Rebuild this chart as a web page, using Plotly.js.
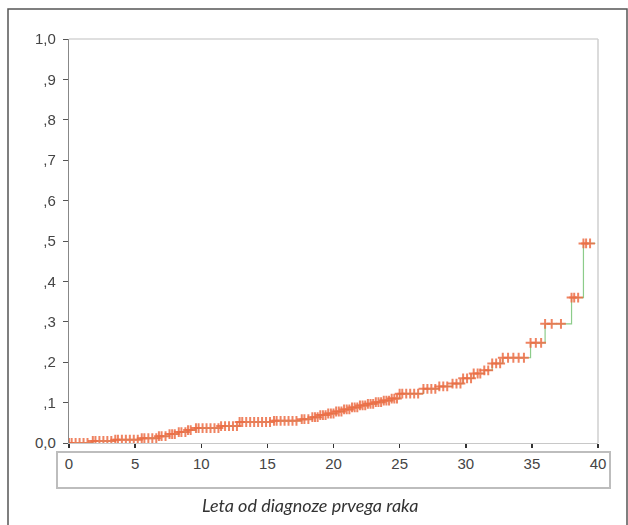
<!DOCTYPE html>
<html>
<head>
<meta charset="utf-8">
<script src="https://cdn.plot.ly/plotly-3.0.1.min.js"></script>
<style>html,body{margin:0;padding:0;background:#fff;}#chart{width:628px;height:525px;}</style>
</head>
<body>
<div id="chart"></div>
<script>
// Step function (cumulative incidence) – event times and values
const stepTimes = [0, 1.8, 3.5, 5.5, 6.8, 7.6, 8.3, 9.0, 9.6, 11.5, 12.9, 15.5, 17.6, 18.4, 19.0, 19.6, 20.2, 20.8, 21.4, 22.0, 22.6, 23.2, 23.8, 24.4, 25.0, 26.8, 28.0, 29.0, 29.8, 30.6, 31.4, 32.0, 32.8, 34.9, 36.0, 38.0, 38.9, 39.8];
const stepValues = [0, 0.005, 0.008, 0.012, 0.017, 0.022, 0.027, 0.032, 0.037, 0.042, 0.052, 0.055, 0.059, 0.064, 0.069, 0.073, 0.078, 0.083, 0.088, 0.093, 0.097, 0.101, 0.105, 0.110, 0.122, 0.134, 0.140, 0.147, 0.160, 0.172, 0.180, 0.197, 0.211, 0.248, 0.295, 0.360, 0.494, 0.494];
// Censored observations (times)
const censorTimes = [0.2, 0.5, 0.8, 1.1, 1.4, 2.0, 2.3, 2.6, 2.9, 3.2, 3.7, 4.0, 4.3, 4.6, 4.9, 5.2, 5.7, 6.0, 6.3, 6.6, 7.0, 7.3, 7.8, 8.0, 8.5, 8.8, 9.2, 9.8, 10.1, 10.4, 10.7, 11.0, 11.3, 11.8, 12.1, 12.4, 12.7, 13.1, 13.4, 13.7, 14.0, 14.3, 14.6, 14.9, 15.2, 15.7, 16.0, 16.3, 16.6, 16.9, 17.2, 17.8, 18.1, 18.6, 18.8, 19.2, 19.4, 19.8, 20.0, 20.4, 20.6, 21.0, 21.2, 21.6, 21.8, 22.2, 22.4, 22.8, 23.0, 23.4, 23.6, 24.0, 24.2, 24.6, 24.8, 25.2, 25.5, 25.8, 26.1, 26.4, 27.1, 27.4, 27.7, 28.3, 28.6, 29.3, 29.6, 30.1, 30.4, 30.9, 31.1, 31.7, 32.3, 32.6, 33.2, 33.6, 34.0, 34.4, 35.3, 35.7, 36.5, 37.2, 38.2, 38.5, 39.1, 39.4];

const yTickVals = [0, 0.1, 0.2, 0.3, 0.4, 0.5, 0.6, 0.7, 0.8, 0.9, 1.0];
const yTickText = ["0,0", ",1", ",2", ",3", ",4", ",5", ",6", ",7", ",8", ",9", "1,0"];
const xTickVals = [0, 5, 10, 15, 20, 25, 30, 35, 40];
const xTitle = "Leta od diagnoze prvega raka";

function valueAt(t) {
  let v = 0;
  for (let i = 0; i < stepTimes.length; i++) { if (stepTimes[i] <= t) v = stepValues[i]; }
  return v;
}
const censorValues = censorTimes.map(valueAt);

const mk = {symbol: 'cross-thin', size: 7, color: '#ec6d45', line: {color: '#ec6d45', width: 2}};
const traces = [
  {x: stepTimes, y: stepValues, type: 'scatter', mode: 'lines',
   line: {shape: 'hv', color: '#8ccc8a', width: 1.2}, hoverinfo: 'skip'},
  {x: censorTimes, y: censorValues, type: 'scatter', mode: 'markers', marker: mk, opacity: 0.85},
  {x: stepTimes.slice(0, -1), y: stepValues.slice(0, -1), type: 'scatter', mode: 'markers', marker: mk, opacity: 0.85}
];

const L = 69, T = 39, W = 529, H = 404;
function px(x) { return (x - L) / W; }
function py(y) { return (T + H - y) / H; }

const layout = {
  width: 628, height: 525,
  margin: {l: L, r: 628 - L - W, t: T, b: 525 - T - H},
  showlegend: false,
  paper_bgcolor: '#fff', plot_bgcolor: '#fff',
  font: {family: 'Arial, "Liberation Sans", sans-serif', color: '#444'},
  xaxis: {range: [0, 40], tickvals: xTickVals, ticks: 'outside', ticklen: 4, tickwidth: 1.5, tickcolor: '#333',
          showgrid: false, zeroline: false, showline: true, linecolor: '#c8c8c8', linewidth: 1,
          tickfont: {size: 15, color: '#444'}, ticklabelstandoff: 3},
  yaxis: {range: [0, 1], tickvals: yTickVals, ticktext: yTickText, ticks: 'outside', ticklen: 5, tickwidth: 1, tickcolor: '#555',
          showgrid: false, zeroline: false, showline: true, linecolor: '#888', linewidth: 1.2,
          tickfont: {size: 15, color: '#444'}, ticklabelstandoff: 4},
  shapes: [
    {type: 'line', xref: 'paper', yref: 'paper', x0: 0, x1: 1, y0: 1, y1: 1, line: {color: '#d4d4d4', width: 1.5}},
    {type: 'line', xref: 'paper', yref: 'paper', x0: 1, x1: 1, y0: 0, y1: 1, line: {color: '#cfcfcf', width: 1.5}},
    {type: 'rect', xref: 'paper', yref: 'paper', x0: px(57), x1: px(610), y0: py(452), y1: py(488), line: {color: '#bdbdbd', width: 2}},
    {type: 'rect', xref: 'paper', yref: 'paper', x0: px(8), x1: px(627), y0: py(9), y1: py(535), line: {color: '#555', width: 1.5}}
  ],
  annotations: [
    {text: xTitle, xref: 'paper', yref: 'paper', x: px(310), y: py(505), xanchor: 'center', yanchor: 'middle', showarrow: false,
     font: {family: 'Lato, "Open Sans", sans-serif', size: 18, color: '#333', style: 'italic'}}
  ]
};

Plotly.newPlot('chart', traces, layout, {staticPlot: true, displayModeBar: false});
</script>
</body>
</html>
